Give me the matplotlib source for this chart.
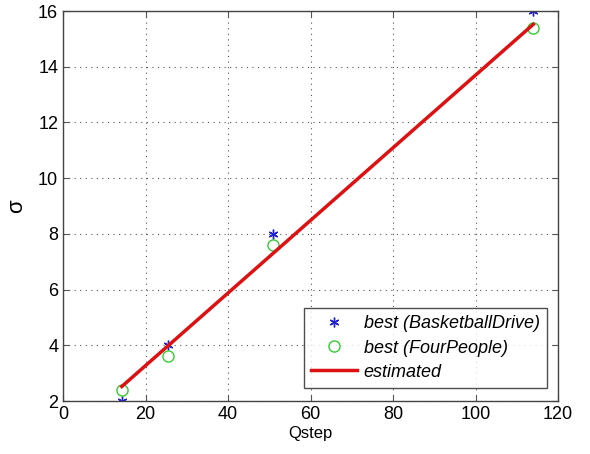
import matplotlib
matplotlib.use("Agg")
import matplotlib.pyplot as plt
import numpy as np

qstep = [14.25, 25.4, 50.8, 114.0]
best_basketball = [2.0, 4.0, 8.0, 16.0]
best_fourpeople = [2.4, 3.6, 7.6, 15.4]
est_x = [14.25, 114.0]
est_y = [2.52, 15.52]

plt.rcParams['font.family'] = ['Liberation Sans', 'DejaVu Sans']

fig = plt.figure(figsize=(5.90, 4.54), dpi=100)
ax = fig.add_axes([63/590, 1-401/454, (558-63)/590, (401-11)/454])

ax.plot(qstep, best_basketball, linestyle='none', marker=(6, 2, 0), color='#2020d0',
        markersize=7, markeredgewidth=1.0, label='best (BasketballDrive)')
ax.plot(qstep, best_fourpeople, linestyle='none', marker='o', markerfacecolor='none',
        markeredgecolor='#33cc33', markersize=8, markeredgewidth=1.0, label='best (FourPeople)')
ax.plot(est_x, est_y, color='#dd1111', linewidth=2.5, label='estimated')

ax.set_xlim(0, 120)
ax.set_ylim(2, 16)
ax.set_xticks([0, 20, 40, 60, 80, 100, 120])
ax.set_yticks([2, 4, 6, 8, 10, 12, 14, 16])
ax.grid(True, linestyle=(0, (1, 4)), color='#555555', linewidth=0.8)
ax.tick_params(direction='in', top=True, right=True, labelsize=13, length=4, color='#555555')
for s in ax.spines.values():
    s.set_color('#444444')
    s.set_linewidth(1.0)

ax.set_xlabel('Qstep', fontsize=12, labelpad=2)
ax.set_ylabel('σ', fontsize=16, labelpad=8)

leg = ax.legend(loc='lower right', bbox_to_anchor=(547/590, 1-388/454), bbox_transform=fig.transFigure,
                prop={'style': 'italic', 'size': 13}, frameon=True, fancybox=False,
                edgecolor='#222222', handlelength=2.5, handletextpad=0.4,
                borderpad=0.4, labelspacing=0.4, borderaxespad=0)
leg.get_frame().set_linewidth(1.0)

fig.savefig('out.png', dpi=100)
